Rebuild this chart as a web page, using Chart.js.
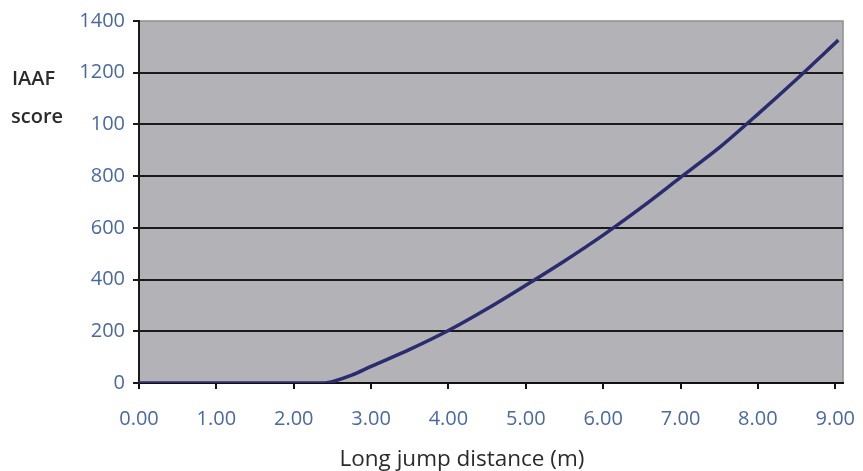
<!DOCTYPE html>
<html>
<head>
<meta charset="utf-8">
<script src="https://cdn.jsdelivr.net/npm/chart.js@4"></script>
<style>
  html, body { margin: 0; padding: 0; background: #fff; }
  #wrap { width: 863px; height: 471px; position: relative; }
</style>
</head>
<body>
<div id="wrap"><canvas id="chart" width="863" height="471"></canvas></div>
<script>
// Values
const distances = [0.0, 0.5, 1.0, 1.5, 2.0, 2.4, 2.5, 2.75, 3.0, 3.5, 4.0, 4.5, 5.0, 5.5, 6.0, 6.5, 7.0, 7.5, 8.0, 8.5, 9.04];
const scores    = [0,   0,   0,   0,   0,   0,   5,   30,   64,  130, 203, 287, 378, 472, 572, 680, 795, 910, 1040, 1175, 1326];

const xTicks = [0, 1, 2, 3, 4, 5, 6, 7, 8, 9];
const yTicks = [0, 200, 400, 600, 800, 1000, 1200, 1400];
// the original chart prints "100" where 1000 belongs
const yTickLabels = ['0', '200', '400', '600', '800', '100', '1200', '1400'];

const yTitleLines = ['IAAF', 'score'];
const xTitle = 'Long jump distance (m)';

const FONT = '"Open Sans", "DejaVu Sans", sans-serif';
const TICK_BLUE = '#4a69a3';

// gray plot background + frame
const plotBg = {
    id: 'plotBg',
    beforeDraw(chart) {
        const { ctx, chartArea: a } = chart;
        ctx.save();
        ctx.fillStyle = '#b3b3b7';
        ctx.fillRect(a.left, a.top, a.right - a.left, a.bottom - a.top);
        ctx.strokeStyle = '#8f8f94';
        ctx.lineWidth = 1.5;
        ctx.strokeRect(a.left, a.top, a.right - a.left, a.bottom - a.top);
        ctx.restore();
    }
};

// axis titles sit where the original put them
const titles = {
    id: 'titles',
    afterDraw(chart) {
        const ctx = chart.ctx;
        ctx.save();
        ctx.fillStyle = '#2b2b2b';
        ctx.textBaseline = 'alphabetic';
        ctx.textAlign = 'left';
        ctx.font = '600 20px ' + FONT;
        ctx.fillText(yTitleLines[0], 12, 85);
        ctx.fillText(yTitleLines[1], 11, 123);
        ctx.textAlign = 'center';
        ctx.font = '22.5px ' + FONT;
        ctx.fillText(xTitle, 462, 466);
        ctx.restore();
    }
};

new Chart(document.getElementById('chart'), {
    type: 'line',
    data: {
        datasets: [{
            data: distances.map((d, i) => ({ x: d, y: scores[i] })),
            borderColor: '#2b2b70',
            borderWidth: 3.5,
            pointRadius: 0,
            tension: 0.3,
            fill: false
        }]
    },
    options: {
        responsive: false,
        animation: false,
        layout: { padding: { left: 0, top: 21, right: 20, bottom: 0 } },
        plugins: {
            legend: { display: false },
            tooltip: { enabled: false }
        },
        scales: {
            x: {
                type: 'linear',
                min: 0,
                max: 9.1,
                afterBuildTicks: s => { s.ticks = xTicks.map(v => ({ value: v })); },
                afterFit: s => {
                    s.height = 88;
                    // keep the plot right edge where the original has it
                    s.paddingLeft = 0;
                    s.paddingRight = 0;
                },
                grid: { drawOnChartArea: false, color: '#111', tickLength: 6, lineWidth: 2 },
                border: { color: '#111', width: 2 },
                ticks: {
                    color: TICK_BLUE,
                    font: { family: FONT, size: 20 },
                    padding: 18,
                    maxRotation: 0,
                    callback: v => v.toFixed(2)
                }
            },
            y: {
                min: 0,
                max: 1400,
                afterBuildTicks: s => { s.ticks = yTicks.map(v => ({ value: v })); },
                afterFit: s => { s.width = 139; },
                grid: {
                    color: c => (c.tick && c.tick.value === 1400) ? 'rgba(0,0,0,0)' : '#1a1a1a',
                    tickColor: '#1a1a1a',
                    lineWidth: 2,
                    tickLength: 6
                },
                border: { color: '#1a1a1a', width: 2 },
                ticks: {
                    color: TICK_BLUE,
                    font: { family: FONT, size: 20 },
                    padding: 8,
                    callback: (v) => yTickLabels[yTicks.indexOf(v)]
                }
            }
        }
    },
    plugins: [plotBg, titles]
});
</script>
</body>
</html>
